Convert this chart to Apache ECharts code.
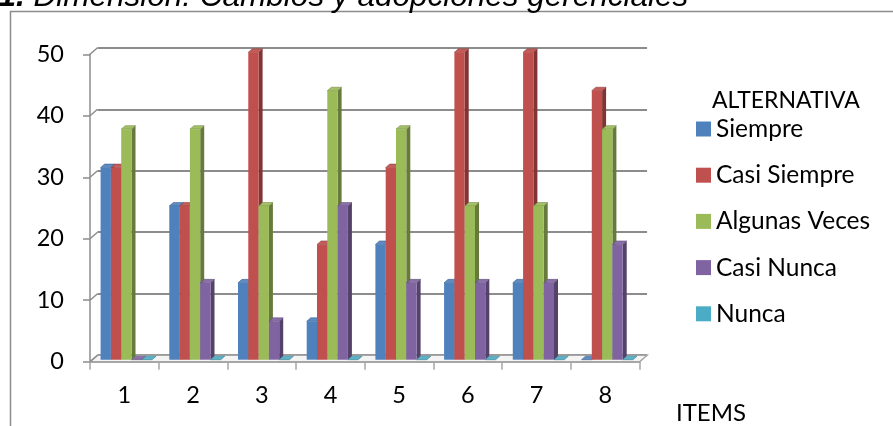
<!DOCTYPE html>
<html>
<head>
<meta charset="utf-8">
<script src="https://cdn.jsdelivr.net/npm/echarts@6/dist/echarts.min.js"></script>
<style>
  html, body { margin: 0; padding: 0; background: #fff; }
  #chart { width: 893px; height: 426px; }
</style>
</head>
<body>
<div id="chart"></div>
<script>
// Item numbers along the floor of the chart
const categories = ['1', '2', '3', '4', '5', '6', '7', '8'];

// Percentage of answers per alternative, item by item
const siempre      = [31.25, 25, 12.5, 6.25, 18.75, 12.5, 12.5, 0];
const casiSiempre  = [31.25, 25, 50, 18.75, 31.25, 50, 50, 43.75];
const algunasVeces = [37.5, 37.5, 25, 43.75, 37.5, 25, 25, 37.5];
const casiNunca    = [0, 12.5, 6.25, 25, 12.5, 12.5, 12.5, 18.75];
const nunca        = [0, 0, 0, 0, 0, 0, 0, 0];

const seriesNames = ['Siempre', 'Casi Siempre', 'Algunas Veces', 'Casi Nunca', 'Nunca'];
const seriesValues = [siempre, casiSiempre, algunasVeces, casiNunca, nunca];
const seriesColors = ['#4f81bd', '#c0504d', '#9bbb59', '#8064a2', '#4bacc6'];

const yTicks = [0, 10, 20, 30, 40, 50];

const titleText = 'Dimensión: Cambios y adopciones gerenciales';
const legendTitle = 'ALTERNATIVA';
const xAxisName = 'ITEMS';

// --- 3D look: back wall offset and bar depth -------------------------
const WALL_DX = 7.5, WALL_DY = -6.5;   // back wall relative to front plane
const PLANE_DX = 2, PLANE_DY = -2;     // plane where the bar fronts sit
const BAR_DX = 4, BAR_DY = -3.5;       // bar depth
const GROUP_FRACTION = 0.75;           // share of a band taken by a cluster

const FONT = 'Lato, "Open Sans", sans-serif';
const GRID_COLOR = '#8c8c8c';

function shade(hex, f) {
  const n = parseInt(hex.slice(1), 16);
  let r = (n >> 16) & 255, g = (n >> 8) & 255, b = n & 255;
  const m = c => Math.max(0, Math.min(255, Math.round(f >= 1 ? c + (255 - c) * (f - 1) : c * f)));
  return 'rgb(' + m(r) + ',' + m(g) + ',' + m(b) + ')';
}

function barRenderer(idx, color) {
  const side = shade(color, 0.66);
  const top = shade(color, 1.08);
  return function (params, api) {
    const cat = api.value(0), val = api.value(1);
    const band = api.size([1, 0])[0];
    const base = api.coord([cat, 0]);
    const peak = api.coord([cat, val]);
    const bw = band * GROUP_FRACTION / seriesNames.length;
    const x0 = base[0] - band * GROUP_FRACTION / 2 + idx * bw + PLANE_DX;
    const x1 = x0 + bw;
    const yb = base[1] + PLANE_DY;
    const yt = peak[1] + PLANE_DY;
    return {
      type: 'group',
      children: [
        { type: 'polygon', shape: { points: [[x1, yt], [x1 + BAR_DX, yt + BAR_DY], [x1 + BAR_DX, yb + BAR_DY], [x1, yb]] },
          style: { fill: side } },
        { type: 'polygon', shape: { points: [[x0, yt], [x1, yt], [x1 + BAR_DX, yt + BAR_DY], [x0 + BAR_DX, yt + BAR_DY]] },
          style: { fill: top, stroke: side, lineWidth: 0.5 } },
        { type: 'rect', shape: { x: x0, y: yt, width: bw, height: yb - yt },
          style: { fill: color } }
      ]
    };
  };
}

const barSeries = seriesNames.map((name, i) => ({
  name: name,
  type: 'custom',
  xAxisIndex: 0, yAxisIndex: 0,
  z: 3,
  clip: false,
  itemStyle: { color: seriesColors[i] },
  encode: { x: 0, y: 1 },
  renderItem: barRenderer(i, seriesColors[i]),
  data: seriesValues[i].map((v, c) => [c, v])
}));

// Floor slab under the clusters
const floorSeries = {
  type: 'custom',
  xAxisIndex: 0, yAxisIndex: 0,
  z: 1,
  clip: false,
  silent: true,
  encode: { x: 0, y: 1 },
  renderItem: function (params, api) {
    const band = api.size([1, 0])[0];
    const l = api.coord([0, 0]);
    const r = api.coord([categories.length - 1, 0]);
    const xl = l[0] - band / 2, xr = r[0] + band / 2, y = l[1];
    return {
      type: 'polygon',
      shape: { points: [[xl, y], [xr, y], [xr + WALL_DX, y + WALL_DY], [xl + WALL_DX, y + WALL_DY]] },
      style: { fill: '#f4f4f4', stroke: '#a6a6a6', lineWidth: 1.5 }
    };
  },
  data: [[0, 0]]
};

// Short diagonals joining the front value axis to the back-wall gridlines
const connectorSeries = {
  type: 'custom',
  xAxisIndex: 0, yAxisIndex: 0,
  z: 1,
  clip: false,
  silent: true,
  encode: { x: 0, y: 1 },
  renderItem: function (params, api) {
    const band = api.size([1, 0])[0];
    const p = api.coord([0, api.value(1)]);
    const x = p[0] - band / 2;
    return {
      type: 'line',
      shape: { x1: x, y1: p[1], x2: x + WALL_DX, y2: p[1] + WALL_DY },
      style: { stroke: GRID_COLOR, lineWidth: 1.5 }
    };
  },
  data: yTicks.map(v => [0, v])
};

const FRONT = { left: 90, top: 54.3, width: 549.6, height: 307.4 };

const option = {
  animation: false,
  backgroundColor: '#fff',
  grid: [
    { left: FRONT.left, top: FRONT.top, width: FRONT.width, height: FRONT.height, outerBoundsMode: 'none', containLabel: false },
    { left: FRONT.left + WALL_DX, top: FRONT.top + WALL_DY, width: FRONT.width, height: FRONT.height, outerBoundsMode: 'none', containLabel: false }
  ],
  xAxis: [
    {
      type: 'category', gridIndex: 0, data: categories,
      axisLine: { show: true, lineStyle: { color: '#a6a6a6', width: 2 } },
      axisTick: { show: true, alignWithLabel: false, length: 8, lineStyle: { color: '#a6a6a6', width: 1.5 } },
      axisLabel: { margin: 22, color: '#000', fontFamily: FONT, fontSize: 23.5 },
      splitLine: { show: false }
    },
    {
      type: 'category', gridIndex: 1, data: categories, show: false
    }
  ],
  yAxis: [
    {
      type: 'value', gridIndex: 0, min: 0, max: 50, interval: 10,
      axisLine: { show: true, lineStyle: { color: GRID_COLOR, width: 1.5 } },
      axisTick: { show: true, length: 7, lineStyle: { color: GRID_COLOR, width: 1.5 } },
      axisLabel: { margin: 26, color: '#000', fontFamily: FONT, fontSize: 23.5, padding: [4, 0, 0, 0] },
      splitLine: { show: false }
    },
    {
      type: 'value', gridIndex: 1, min: 0, max: 50, interval: 10,
      axisLine: { show: false }, axisTick: { show: false }, axisLabel: { show: false },
      splitLine: { show: true, lineStyle: { color: GRID_COLOR, width: 2 } }
    }
  ],
  legend: {
    data: seriesNames,
    orient: 'vertical',
    left: 696, top: 116.5,
    icon: 'rect',
    itemWidth: 15, itemHeight: 15,
    itemGap: 21.2,
    textStyle: { color: '#000', fontFamily: FONT, fontSize: 24.5, lineHeight: 25 },
    padding: 0,
    selectedMode: false
  },
  graphic: [
    { type: 'rect', silent: true, z: 0,
      shape: { x: 10.5, y: 11.5, width: 1000, height: 1000 },
      style: { fill: 'none', stroke: '#8c8c8c', lineWidth: 1.5 } },
    { type: 'text', silent: true, x: -1.5, y: -3,
      style: { text: '{b|1.} ' + titleText,
        font: 'italic 31.5px "Liberation Sans", Arial, sans-serif',
        fill: '#000', verticalAlign: 'middle',
        rich: { b: { fontWeight: 'bold', fontStyle: 'italic', fontSize: 31.5, fontFamily: '"Liberation Sans", Arial, sans-serif' } } } },
    { type: 'text', silent: true, x: 712, y: 101,
      style: { text: legendTitle, font: '23px ' + FONT, fill: '#000', verticalAlign: 'middle' } },
    { type: 'text', silent: true, x: 711, y: 413,
      style: { text: xAxisName, font: '24px ' + FONT, fill: '#000', align: 'center', verticalAlign: 'middle' } }
  ],
  series: [floorSeries, connectorSeries].concat(barSeries)
};

const chart = echarts.init(document.getElementById('chart'), null, { renderer: 'canvas' });
chart.setOption(option);
</script>
</body>
</html>
